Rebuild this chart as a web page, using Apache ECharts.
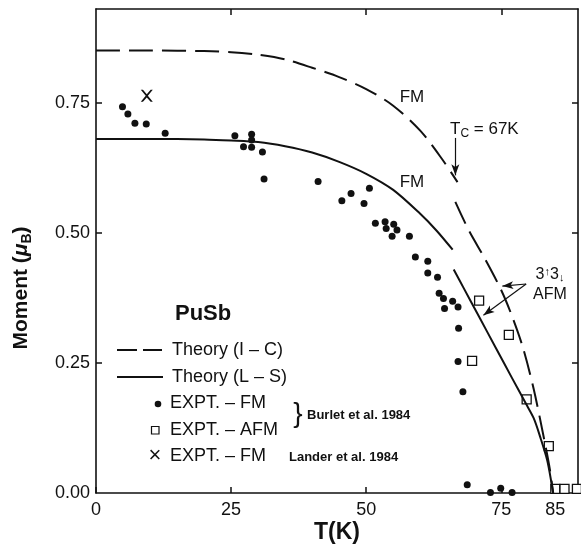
<!DOCTYPE html>
<html>
<head>
<meta charset="utf-8">
<script src="https://cdn.jsdelivr.net/npm/echarts@6/dist/echarts.min.js"></script>
<style>
  html, body { margin: 0; padding: 0; background: #fff; }
  #chart { width: 581px; height: 546px; }
</style>
</head>
<body>
<div id="chart"></div>
<script>
// theory (I - C), dashed: FM branch up to Tc, then the 3up3down AFM branch
const icFmT = [0, 10, 20, 25, 30, 35, 40, 45, 50, 55, 60, 64, 66.9]
const icFmM = [0.851, 0.851, 0.850, 0.848, 0.843, 0.834, 0.818, 0.800, 0.777, 0.745, 0.697, 0.643, 0.598]
const icAfmT = [66.5, 69, 72, 75, 77, 79, 81, 83, 84, 84.6]
const icAfmM = [0.560, 0.505, 0.450, 0.390, 0.340, 0.280, 0.200, 0.100, 0.045, 0]

// theory (L - S), solid
const lsFmT = [0, 10, 20, 25, 30, 35, 40, 45, 50, 55, 60, 63, 66]
const lsFmM = [0.681, 0.681, 0.680, 0.678, 0.675, 0.667, 0.655, 0.637, 0.614, 0.583, 0.537, 0.505, 0.468]
const lsAfmT = [66.2, 68, 71, 74, 77, 79.5, 81, 82.2, 83.5, 84.3, 84.6]
const lsAfmM = [0.430, 0.395, 0.337, 0.279, 0.221, 0.173, 0.144, 0.108, 0.063, 0.019, 0]

// experiment (Burlet et al. 1984)
const fmT = [4.9, 5.9, 7.2, 9.3, 12.8, 25.7, 27.3, 28.8, 28.8, 28.8, 30.8, 31.1, 41.1, 45.5, 47.2, 49.6, 50.6,
  51.7, 53.5, 55.1, 53.7, 55.7, 54.8, 58.0, 59.1, 61.4, 61.4, 63.2, 63.5, 64.3, 66.0, 64.5, 67.0, 67.1, 67.0,
  67.9, 68.7, 73.0, 74.9, 77.0]
const fmM = [0.743, 0.729, 0.711, 0.710, 0.692, 0.687, 0.666, 0.690, 0.679, 0.665, 0.656, 0.604, 0.599, 0.562,
  0.576, 0.557, 0.586, 0.519, 0.522, 0.517, 0.509, 0.506, 0.494, 0.494, 0.454, 0.446, 0.423, 0.415, 0.384,
  0.374, 0.369, 0.355, 0.358, 0.317, 0.253, 0.195, 0.016, 0.001, 0.009, 0.001]
const afmT = [69.6, 70.9, 76.4, 79.7, 83.8, 85.0, 86.7, 89.0]
const afmM = [0.254, 0.370, 0.304, 0.180, 0.090, 0.008, 0.008, 0.008]

// experiment (Lander et al. 1984)
const landerT = [9.4]
const landerM = [0.764]

// axes
const xTicks = [0, 25, 50, 75]
const xTickLabels = [0, 25, 50, 75, 85]
const yTicks = [0, 0.25, 0.5, 0.75]

const pairs = (xs, ys) => xs.map((x, i) => [x, ys[i]])

const black = '#111'
const font = 'Liberation Sans'
const crossPath = 'path://M0,0 L1.8,0 L5,3.7 L8.2,0 L10,0 L5.9,5 L10,10 L8.2,10 L5,6.3 L1.8,10 L0,10 L4.1,5 Z'

const chart = echarts.init(document.getElementById('chart'))

const frameLine = { show: true, onZero: false, lineStyle: { color: black, width: 1.6 } }
const tickStyle = { color: black, width: 1.5 }

function curve(t, m, dashed) {
  return {
    type: 'line',
    data: pairs(t, m),
    smooth: 0.3,
    symbol: 'none',
    silent: true,
    lineStyle: { color: black, width: 2, type: dashed ? [24, 9] : 'solid' }
  }
}

const option = {
  animation: false,
  backgroundColor: '#fff',
  grid: { left: 96, top: 9, right: 3, bottom: 53 },
  xAxis: [
    {
      type: 'value', min: 0, max: 89.2, position: 'bottom',
      axisLine: frameLine,
      axisTick: { show: true, inside: true, length: 6, customValues: xTicks, lineStyle: tickStyle },
      axisLabel: { customValues: xTickLabels, color: black, fontSize: 18, fontFamily: font, margin: 8 },
      splitLine: { show: false }
    },
    {
      type: 'value', min: 0, max: 89.2, position: 'top',
      axisLine: frameLine,
      axisTick: { show: true, inside: true, length: 6, customValues: [25, 50, 75], lineStyle: tickStyle },
      axisLabel: { show: false },
      splitLine: { show: false }
    }
  ],
  yAxis: [
    {
      type: 'value', min: 0, max: 0.931, position: 'left',
      axisLine: frameLine,
      axisTick: { show: true, inside: true, length: 6, customValues: [0.25, 0.5, 0.75], lineStyle: tickStyle },
      axisLabel: {
        customValues: yTicks, color: black, fontSize: 18, fontFamily: font, margin: 6,
        formatter: v => v.toFixed(2)
      },
      splitLine: { show: false }
    },
    {
      type: 'value', min: 0, max: 0.931, position: 'right',
      axisLine: frameLine,
      axisTick: { show: true, inside: true, length: 6, customValues: [0.25, 0.5, 0.75], lineStyle: tickStyle },
      axisLabel: { show: false },
      splitLine: { show: false }
    }
  ],
  series: [
    curve(icFmT, icFmM, true),
    curve(icAfmT, icAfmM, true),
    curve(lsFmT, lsFmM, false),
    Object.assign(curve(lsAfmT, lsAfmM, false), {
      // annotation arrows (Tc and the 3up3down AFM pointers)
      markLine: {
        silent: true,
        symbol: ['none', 'arrow'],
        symbolSize: [6, 11],
        label: { show: false },
        lineStyle: { color: black, width: 1.2, type: 'solid' },
        data: [
          [{ coord: [66.5, 0.683] }, { coord: [66.5, 0.611] }],
          [{ coord: [79.6, 0.402] }, { coord: [75.2, 0.398] }],
          [{ coord: [79.6, 0.402] }, { coord: [71.7, 0.342] }]
        ]
      }
    }),
    {
      type: 'scatter',
      data: pairs(fmT, fmM),
      symbol: 'circle',
      symbolSize: 7,
      itemStyle: { color: black, opacity: 1 }
    },
    {
      type: 'scatter',
      data: pairs(afmT, afmM),
      symbol: 'rect',
      symbolSize: 9,
      itemStyle: { color: '#fff', borderColor: black, borderWidth: 1.3, opacity: 1 }
    },
    {
      type: 'scatter',
      data: pairs(landerT, landerM),
      symbol: crossPath,
      symbolSize: 12,
      itemStyle: { color: black, opacity: 1 }
    }
  ],
  graphic: [
    // axis titles
    {
      type: 'text', x: 21, y: 288, rotation: Math.PI / 2,
      style: {
        text: 'Moment ({mu|μ}{sub|B})',
        font: 'bold 21px "Liberation Sans"', fill: black,
        textAlign: 'center', textVerticalAlign: 'middle',
        rich: {
          mu: { fontSize: 21, fontWeight: 'bold', fontStyle: 'italic', fontFamily: font, fill: black },
          sub: { fontSize: 14, fontWeight: 'bold', fontFamily: font, fill: black, padding: [12, 0, 0, 0] }
        }
      }
    },
    {
      type: 'text', x: 337, y: 533,
      style: { text: 'T(K)', font: 'bold 23px "Liberation Sans"', fill: black, textAlign: 'center', textVerticalAlign: 'middle' }
    },
    // curve labels
    { type: 'text', x: 412, y: 97, style: { text: 'FM', font: '17px "Liberation Sans"', fill: black, textAlign: 'center', textVerticalAlign: 'middle' } },
    { type: 'text', x: 412, y: 182, style: { text: 'FM', font: '17px "Liberation Sans"', fill: black, textAlign: 'center', textVerticalAlign: 'middle' } },
    {
      type: 'text', x: 450, y: 129,
      style: {
        text: 'T{sub|C} = 67K', font: '17px "Liberation Sans"', fill: black, textVerticalAlign: 'middle',
        rich: { sub: { fontSize: 12, fontFamily: font, fill: black, padding: [10, 0, 0, 0] } }
      }
    },
    {
      type: 'text', x: 550, y: 275,
      style: {
        text: '3{up|↑}3{dn|↓}', font: '16px "Liberation Sans"', fill: black, textAlign: 'center', textVerticalAlign: 'middle',
        rich: {
          up: { fontSize: 11, fontFamily: font, fill: black, padding: [0, 0, 6, 0] },
          dn: { fontSize: 11, fontFamily: font, fill: black, padding: [6, 0, 0, 0] }
        }
      }
    },
    { type: 'text', x: 550, y: 295, style: { text: 'AFM', font: '16px "Liberation Sans"', fill: black, textAlign: 'center', textVerticalAlign: 'middle' } },
    // legend block
    { type: 'text', x: 175, y: 314, style: { text: 'PuSb', font: 'bold 22px "Liberation Sans"', fill: black, textVerticalAlign: 'middle' } },
    { type: 'line', shape: { x1: 117, y1: 350, x2: 137, y2: 350 }, style: { stroke: black, lineWidth: 2 } },
    { type: 'line', shape: { x1: 143, y1: 350, x2: 162, y2: 350 }, style: { stroke: black, lineWidth: 2 } },
    { type: 'text', x: 172, y: 350, style: { text: 'Theory (I – C)', font: '18px "Liberation Sans"', fill: black, textVerticalAlign: 'middle' } },
    { type: 'line', shape: { x1: 117, y1: 377, x2: 163, y2: 377 }, style: { stroke: black, lineWidth: 2 } },
    { type: 'text', x: 172, y: 377, style: { text: 'Theory (L – S)', font: '18px "Liberation Sans"', fill: black, textVerticalAlign: 'middle' } },
    { type: 'circle', shape: { cx: 158, cy: 404, r: 3.3 }, style: { fill: black } },
    { type: 'text', x: 170, y: 403, style: { text: 'EXPT. – FM', font: '18px "Liberation Sans"', fill: black, textVerticalAlign: 'middle' } },
    { type: 'rect', shape: { x: 151.5, y: 426.5, width: 7.5, height: 7.5 }, style: { fill: '#fff', stroke: black, lineWidth: 1.2 } },
    { type: 'text', x: 170, y: 430, style: { text: 'EXPT. – AFM', font: '18px "Liberation Sans"', fill: black, textVerticalAlign: 'middle' } },
    { type: 'text', x: 155, y: 456, style: { text: '×', font: '22px "Liberation Sans"', fill: black, textAlign: 'center', textVerticalAlign: 'middle' } },
    { type: 'text', x: 170, y: 456, style: { text: 'EXPT. – FM', font: '18px "Liberation Sans"', fill: black, textVerticalAlign: 'middle' } },
    { type: 'text', x: 298, y: 414, style: { text: '}', font: '28px "Liberation Sans"', fill: black, textAlign: 'center', textVerticalAlign: 'middle' } },
    { type: 'text', x: 307, y: 415, style: { text: 'Burlet et al. 1984', font: 'bold 13px "Liberation Sans"', fill: black, textVerticalAlign: 'middle' } },
    { type: 'text', x: 289, y: 457, style: { text: 'Lander et al. 1984', font: 'bold 13px "Liberation Sans"', fill: black, textVerticalAlign: 'middle' } }
  ]
}

chart.setOption(option)
</script>
</body>
</html>
